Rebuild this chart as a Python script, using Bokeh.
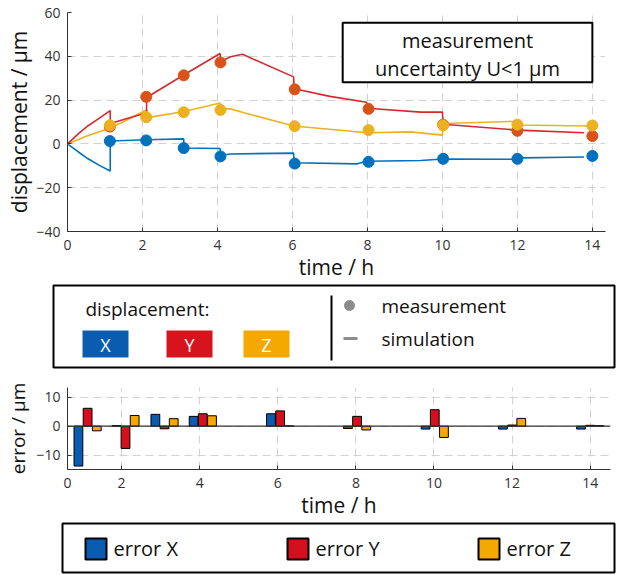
from bokeh.plotting import figure
from bokeh.layouts import column
from bokeh.models import (Range1d, FixedTicker, BoxAnnotation, Label, Span,
                          ColumnDataSource)
from bokeh.transform import dodge
from bokeh.core.properties import value
from bokeh.embed import file_html
from bokeh.resources import INLINE

FONT = "Open Sans"

# ---------------- data ----------------
# measurement times (h)
meas_t = [1.13, 2.1, 3.1, 4.08, 6.06, 8.03, 10.02, 12.0, 14.0]
# measured displacement (um)
meas_x = [1.3, 1.6, -1.9, -5.7, -9.0, -8.2, -6.8, -6.8, -5.5]
meas_y = [7.9, 21.5, 31.3, 37.2, 24.9, 16.0, 8.8, 6.0, 3.6]
meas_z = [8.5, 12.2, 14.5, 15.5, 8.1, 6.3, 8.5, 8.8, 8.4]

# simulated displacement (um)
sim_x_t = [0, 0.3, 0.55, 0.85, 1.14, 1.14, 2.1, 3.1, 3.1, 4.07, 4.09, 4.35,
           6.03, 6.05, 7.73, 7.98, 9.42, 10.0, 11.9, 12.1, 13.78]
sim_x_v = [0, -3.8, -6.8, -9.8, -12.4, 1.3, 1.9, 2.3, -1.9, -2.1, -5.2, -4.6,
           -4.2, -8.6, -9.1, -7.9, -7.6, -6.9, -7.0, -6.4, -6.0]

sim_y_t = [0, 0.3, 0.55, 0.85, 1.14, 1.14, 2.11, 2.11, 3.11, 4.07, 4.09, 4.35,
           4.67, 6.03, 6.05, 7.0, 7.98, 8.0, 9.42, 10.0, 10.02, 12.0, 13.78]
sim_y_v = [0, 4.8, 8.3, 11.8, 15.2, 9.3, 14.2, 21.2, 31.6, 41.3, 37.6, 39.8,
           40.9, 30.6, 25.2, 21.7, 19.0, 16.3, 14.5, 14.5, 9.0, 6.3, 5.1]

sim_z_t = [0, 0.5, 1.14, 1.6, 2.1, 2.1, 3.11, 4.07, 4.09, 4.35, 4.71, 6.03,
           8.0, 9.15, 10.0, 10.02, 11.9, 11.95, 12.0, 13.95]
sim_z_v = [0, 3.5, 7.3, 11.0, 15.5, 11.9, 14.8, 18.7, 16.0, 16.0, 14.2, 8.2,
           5.1, 5.5, 4.0, 9.3, 10.3, 10.8, 8.6, 8.2]

# error = measurement - simulation (um)
err_x = [-13.8, 0.2, 4.1, 3.4, 4.3, -0.8, -1.0, -1.0, -1.0]
err_y = [6.2, -7.7, -0.9, 4.3, 5.3, 3.4, 5.7, 0.4, 0.3]
err_z = [-1.6, 3.7, 2.6, 3.6, 0.1, -1.3, -3.9, 2.7, 0.2]

x_ticks = [0, 2, 4, 6, 8, 10, 12, 14]
y1_ticks = [-40, -20, 0, 20, 40, 60]
y2_ticks = [-10, 0, 10]

# ---------------- colours ----------------
C_BLUE = "#0072BD"
C_RED_PT = "#D95319"
C_RED_LN = "#D42A2F"
C_YEL = "#EDB120"
BAR_BLUE = "#0A5CB0"
BAR_RED = "#D40F1E"
BAR_YEL = "#F5A800"
GRID = "#d2d2d2"
AXC = "#333333"


def style_axes(p):
    for ax in (p.xaxis[0], p.yaxis[0]):
        ax.axis_line_color = AXC
        ax.major_tick_line_color = AXC
        ax.major_tick_in = 4
        ax.major_tick_out = 0
        ax.minor_tick_line_color = None
        ax.major_label_text_font = FONT
        ax.major_label_text_font_size = "14px"
        ax.major_label_text_color = "#333333"
        ax.axis_label_text_font = FONT
        ax.axis_label_text_font_style = "normal"
        ax.axis_label_text_font_size = "21px"
        ax.axis_label_text_color = "#111111"
    p.grid.grid_line_color = GRID
    p.grid.grid_line_dash = "8 5"
    p.grid.grid_line_width = 1
    p.outline_line_color = None
    p.background_fill_color = "white"
    p.border_fill_color = "white"


W = 622

# ---------------- top chart ----------------
p1 = figure(width=W, height=283, x_range=Range1d(0, 14.35),
            y_range=Range1d(-40, 60), toolbar_location=None,
            output_backend="svg", min_border_left=67, min_border_right=17,
            min_border_top=12, min_border_bottom=48, frame_align=False)
style_axes(p1)
p1.xaxis.ticker = FixedTicker(ticks=x_ticks)
p1.yaxis.ticker = FixedTicker(ticks=y1_ticks)
p1.xaxis.axis_label = "time / h"
p1.yaxis.axis_label = "displacement / µm"
p1.xaxis.major_label_standoff = 8
p1.yaxis.major_label_standoff = 7
p1.xaxis.axis_label_standoff = 0
p1.yaxis.axis_label_standoff = 0

p1.line(sim_x_t, sim_x_v, line_color=C_BLUE, line_width=1.6)
p1.line(sim_z_t, sim_z_v, line_color=C_YEL, line_width=1.6)
p1.line(sim_y_t, sim_y_v, line_color=C_RED_LN, line_width=1.6)
p1.scatter(meas_t, meas_x, size=11, fill_color=C_BLUE, line_color=C_BLUE)
p1.scatter(meas_t, meas_y, size=11, fill_color=C_RED_PT, line_color=C_RED_PT)
p1.scatter(meas_t, meas_z, size=11, fill_color=C_YEL, line_color=C_YEL)

box = BoxAnnotation(left=7.34, right=14.0, top=55.3, bottom=28.1,
                    fill_color="white", fill_alpha=1.0,
                    line_color="black", line_alpha=1.0, line_width=2)
p1.add_layout(box)
p1.add_layout(Label(x=10.67, y=47.3, text="measurement", text_align="center",
                    text_baseline="middle", text_font=FONT,
                    text_font_size="20px", text_color="#111111"))
p1.add_layout(Label(x=10.67, y=34.3, text="uncertainty U<1 µm",
                    text_align="center", text_baseline="middle",
                    text_font=FONT, text_font_size="20px",
                    text_color="#111111"))


# ---------------- blank helper ----------------
def blank_fig(h):
    f = figure(width=W, height=h, x_range=Range1d(0, W),
               y_range=Range1d(h, 0), toolbar_location=None,
               output_backend="svg", min_border=0, frame_align=False,
               x_axis_location=None, y_axis_location=None)
    f.grid.visible = False
    f.outline_line_color = None
    return f


# ---------------- middle legend ----------------
pl = blank_fig(97)
pl.quad(left=[53], right=[614], top=[2], bottom=[84], fill_color=None,
        line_color="black", line_width=2)
pl.text(x=[85], y=[25], text=["displacement:"], text_font=value(FONT),
        text_font_size="19px", text_baseline="middle", text_color="#111111")
leg_left = [82, 166, 243]
leg_cols = [BAR_BLUE, "#D7141E", BAR_YEL]
leg_txt = ["X", "Y", "Z"]
pl.quad(left=leg_left, right=[l + 46 for l in leg_left], top=[47] * 3,
        bottom=[74] * 3, fill_color=leg_cols, line_color=None)
pl.text(x=[l + 23 for l in leg_left], y=[61] * 3, text=leg_txt,
        text_font=value(FONT), text_font_size="18px", text_align="center",
        text_baseline="middle", text_color="white")
pl.segment(x0=[331], y0=[12], x1=[331], y1=[77], line_color="black",
           line_width=2)
pl.scatter(x=[349], y=[22], size=10, fill_color="#8c8c8c",
           line_color="#8c8c8c")
pl.segment(x0=[343], y0=[55], x1=[357], y1=[55], line_color="#8c8c8c",
           line_width=3)
pl.text(x=[381, 381], y=[22, 55], text=["measurement", "simulation"],
        text_font=value(FONT), text_font_size="19px", text_baseline="middle",
        text_color="#111111")

# ---------------- bottom chart ----------------
x2_start = 0.615
p2 = figure(width=W, height=141, x_range=Range1d(x2_start, 14.52),
            y_range=Range1d(-15, 13.4), toolbar_location=None,
            output_backend="svg", min_border_left=67, min_border_right=12,
            min_border_top=7, min_border_bottom=49, frame_align=False)
style_axes(p2)
p2.xaxis.ticker = FixedTicker(ticks=[x2_start] + x_ticks[1:])
p2.xaxis.major_label_overrides = {x2_start: "0"}
p2.yaxis.ticker = FixedTicker(ticks=y2_ticks)
p2.xaxis.axis_label = "time / h"
p2.yaxis.axis_label = "error / µm"
p2.yaxis.axis_label_text_font_size = "19px"
p2.xaxis.major_label_standoff = 8
p2.yaxis.major_label_standoff = 7
p2.xaxis.axis_label_standoff = 0
p2.yaxis.axis_label_standoff = 2
p2.add_layout(Span(location=0, dimension="width", line_color="#333333",
                   line_width=1.3))

src = ColumnDataSource(dict(t=meas_t, ex=err_x, ey=err_y, ez=err_z))
bw = 0.225
p2.vbar(x=dodge("t", -0.235, range=p2.x_range), top="ex", width=bw,
        source=src, fill_color=BAR_BLUE, line_color="black", line_width=1)
p2.vbar(x=dodge("t", 0.0, range=p2.x_range), top="ey", width=bw,
        source=src, fill_color=BAR_RED, line_color="black", line_width=1)
p2.vbar(x=dodge("t", 0.235, range=p2.x_range), top="ez", width=bw,
        source=src, fill_color=BAR_YEL, line_color="black", line_width=1)

# ---------------- bottom legend ----------------
pb = blank_fig(54)
pb.quad(left=[62], right=[614], top=[2], bottom=[51], fill_color=None,
        line_color="black", line_width=2)
sq_left = [85, 287, 478]
pb.quad(left=sq_left, right=[l + 21 for l in sq_left], top=[17] * 3,
        bottom=[38] * 3, fill_color=[BAR_BLUE, BAR_RED, BAR_YEL],
        line_color="black", line_width=2)
pb.text(x=[l + 28 for l in sq_left], y=[27] * 3,
        text=["error X", "error Y", "error Z"], text_font=value(FONT),
        text_font_size="20px", text_baseline="middle", text_color="#111111")

layout = column(p1, pl, p2, pb, spacing=0)

open("out.html", "w").write(file_html(layout, INLINE))
